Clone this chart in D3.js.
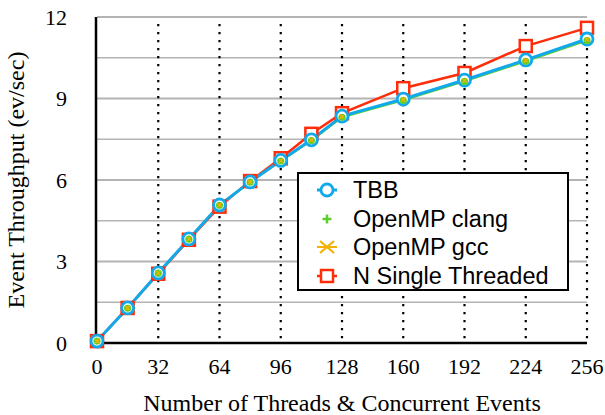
<!DOCTYPE html>
<html>
<head>
<meta charset="utf-8">
<script src="https://cdn.jsdelivr.net/npm/d3@7"></script>
<style>
  body { margin: 0; background: #fff; }
  svg { display: block; }
  .tick-label { font-family: "Liberation Serif", "Times New Roman", serif; font-size: 22px; fill: #000; }
  .axis-title { font-family: "Liberation Serif", "Times New Roman", serif; font-size: 24px; fill: #000; }
  .legend-text { font-family: "Liberation Sans", Arial, sans-serif; font-size: 23.5px; fill: #000; }
</style>
</head>
<body>
<div id="chart"></div>
<script>
// thread counts (x) and throughput per series
var threads = [0, 16, 32, 48, 64, 80, 96, 112, 128, 160, 192, 224, 256];
var tbb = [0.07, 1.29, 2.58, 3.83, 5.08, 5.93, 6.72, 7.48, 8.35, 8.98, 9.68, 10.42, 11.19];
var ompClang = [0.07, 1.28, 2.57, 3.82, 5.07, 5.92, 6.70, 7.45, 8.31, 8.93, 9.63, 10.37, 11.13];
var ompGcc = [0.07, 1.29, 2.58, 3.83, 5.08, 5.93, 6.71, 7.47, 8.33, 8.96, 9.66, 10.40, 11.17];
var nSingle = [0.07, 1.29, 2.55, 3.80, 5.02, 5.96, 6.80, 7.70, 8.46, 9.38, 9.94, 10.93, 11.60];

var xTicks = [0, 32, 64, 96, 128, 160, 192, 224, 256];
var yTicks = [0, 3, 6, 9, 12];
var yGrid = [1.5, 3, 4.5, 6, 7.5, 9, 10.5, 12];
var legendLabels = ["TBB", "OpenMP clang", "OpenMP gcc", "N Single Threaded"];

var W = 605, H = 415;
var margin = {top: 17, right: 18, bottom: 72, left: 97};

var svg = d3.select("#chart").append("svg")
    .attr("width", W)
    .attr("height", H);

var x = d3.scaleLinear().domain([0, 256]).range([margin.left, W - margin.right]);
var y = d3.scaleLinear().domain([0, 12]).range([H - margin.bottom, margin.top]);

// horizontal grid
svg.append("g").selectAll("line")
    .data(yGrid)
    .enter().append("line")
    .attr("x1", x(0)).attr("x2", x(256))
    .attr("y1", function (d) { return y(d); })
    .attr("y2", function (d) { return y(d); })
    .attr("stroke", "#b4b4b4")
    .attr("stroke-width", function (d) { return d % 3 === 0 ? 2 : 1.3; });

// vertical dotted grid
svg.append("g").selectAll("line")
    .data(xTicks.slice(1))
    .enter().append("line")
    .attr("x1", function (d) { return x(d); })
    .attr("x2", function (d) { return x(d); })
    .attr("y1", y(12) + 7)
    .attr("y2", y(0))
    .attr("stroke", "#000")
    .attr("stroke-width", 2.2)
    .attr("stroke-dasharray", "2.2,5.8");

// axes lines
svg.append("line")
    .attr("x1", x(0) - 1).attr("x2", x(0) - 1)
    .attr("y1", y(12)).attr("y2", y(0) + 1)
    .attr("stroke", "#000").attr("stroke-width", 2.5);
svg.append("line")
    .attr("x1", x(0) - 2).attr("x2", x(256))
    .attr("y1", y(0)).attr("y2", y(0))
    .attr("stroke", "#000").attr("stroke-width", 2.5);

// tick labels
svg.append("g").selectAll("text")
    .data(yTicks)
    .enter().append("text")
    .attr("class", "tick-label")
    .attr("x", 67)
    .attr("y", function (d) { return y(d); })
    .attr("dy", "0.35em")
    .attr("text-anchor", "end")
    .text(function (d) { return d; });

svg.append("g").selectAll("text")
    .data(xTicks)
    .enter().append("text")
    .attr("class", "tick-label")
    .attr("x", function (d) { return x(d); })
    .attr("y", 374)
    .attr("text-anchor", "middle")
    .text(function (d) { return d; });

// axis titles
svg.append("text")
    .attr("class", "axis-title")
    .attr("x", 342).attr("y", 411)
    .attr("text-anchor", "middle")
    .text("Number of Threads & Concurrent Events");

svg.append("text")
    .attr("class", "axis-title")
    .attr("transform", "translate(24,180) rotate(-90)")
    .attr("text-anchor", "middle")
    .text("Event Throughput (ev/sec)");

var line = d3.line()
    .x(function (d, i) { return x(threads[i]); })
    .y(function (d) { return y(d); });

var colors = {tbb: "#12a9ec", clang: "#5ccf2a", gcc: "#f2b200", single: "#ff2d0a"};

// lines
svg.append("path").datum(nSingle).attr("d", line)
    .attr("fill", "none").attr("stroke", colors.single).attr("stroke-width", 2.5);
svg.append("path").datum(ompGcc).attr("d", line)
    .attr("fill", "none").attr("stroke", colors.gcc).attr("stroke-width", 2);
svg.append("path").datum(ompClang).attr("d", line)
    .attr("fill", "none").attr("stroke", colors.clang).attr("stroke-width", 2);
svg.append("path").datum(tbb).attr("d", line)
    .attr("fill", "none").attr("stroke", colors.tbb).attr("stroke-width", 3);

// markers
function drawSquare(g, cx, cy) {
    g.append("rect")
        .attr("x", cx - 6).attr("y", cy - 6)
        .attr("width", 12).attr("height", 12)
        .attr("fill", "#fff").attr("stroke", colors.single).attr("stroke-width", 2.5);
}
function drawCircle(g, cx, cy) {
    g.append("circle")
        .attr("cx", cx).attr("cy", cy).attr("r", 6)
        .attr("fill", "#fff").attr("stroke", colors.tbb).attr("stroke-width", 2.8);
}
function drawPlus(g, cx, cy, s) {
    g.append("path")
        .attr("d", "M" + (cx - s) + "," + cy + "H" + (cx + s) + "M" + cx + "," + (cy - s) + "V" + (cy + s))
        .attr("stroke", colors.clang).attr("stroke-width", 2.5).attr("fill", "none");
}
function drawCross(g, cx, cy, s) {
    g.append("path")
        .attr("d", "M" + (cx - s) + "," + (cy - s) + "L" + (cx + s) + "," + (cy + s) +
            "M" + (cx - s) + "," + (cy + s) + "L" + (cx + s) + "," + (cy - s))
        .attr("stroke", colors.gcc).attr("stroke-width", 1.5).attr("fill", "none");
}

var marks = svg.append("g");
nSingle.forEach(function (v, i) { drawSquare(marks, x(threads[i]), y(v)); });
tbb.forEach(function (v, i) { drawCircle(marks, x(threads[i]), y(v)); });
ompClang.forEach(function (v, i) {
    marks.append("circle")
        .attr("cx", x(threads[i])).attr("cy", y(v)).attr("r", 3.6)
        .attr("fill", colors.clang);
});
ompGcc.forEach(function (v, i) { drawCross(marks, x(threads[i]), y(v), 2); });

// legend
var legend = svg.append("g");
legend.append("rect")
    .attr("x", 298).attr("y", 173)
    .attr("width", 270).attr("height", 117)
    .attr("fill", "#fff").attr("stroke", "#000").attr("stroke-width", 2);

var rowY = [190, 219, 247, 276];
legendLabels.forEach(function (label, i) {
    var cy = rowY[i];
    if (i === 0) {
        legend.append("line").attr("x1", 317).attr("x2", 337).attr("y1", cy).attr("y2", cy)
            .attr("stroke", colors.tbb).attr("stroke-width", 3);
        drawCircle(legend, 327, cy);
    } else if (i === 1) {
        drawPlus(legend, 327, cy, 4.5);
    } else if (i === 2) {
        legend.append("path")
            .attr("d", "M320," + (cy - 6) + "L334," + (cy + 6) + "M320," + (cy + 6) + "L334," + (cy - 6) +
                "M317," + cy + "H337")
            .attr("stroke", colors.gcc).attr("stroke-width", 2.2).attr("fill", "none");
    } else {
        legend.append("line").attr("x1", 317).attr("x2", 337).attr("y1", cy).attr("y2", cy)
            .attr("stroke", colors.single).attr("stroke-width", 2.5);
        drawSquare(legend, 327, cy);
    }
    legend.append("text")
        .attr("class", "legend-text")
        .attr("x", 353).attr("y", cy)
        .attr("dy", "0.36em")
        .text(label);
});
</script>
</body>
</html>
